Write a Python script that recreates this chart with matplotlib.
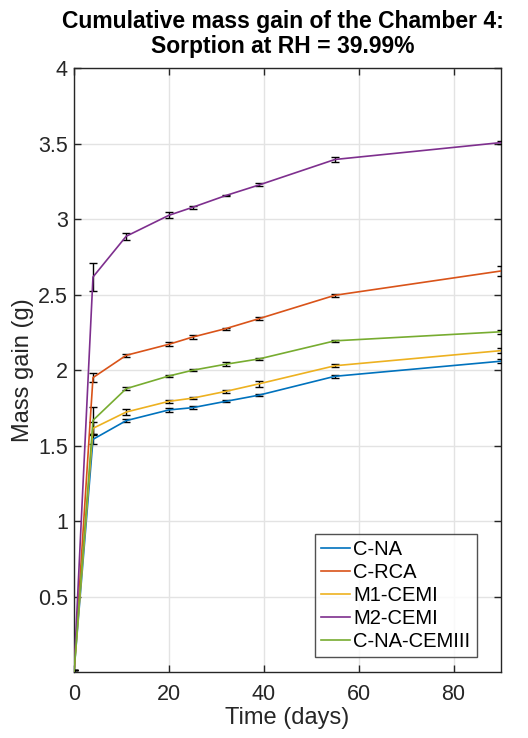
import matplotlib
matplotlib.use("Agg")
import matplotlib.pyplot as plt
from matplotlib.lines import Line2D

plt.rcParams['font.family'] = ['Liberation Sans', 'DejaVu Sans']

time_days = [0, 4, 11, 20, 25, 32, 39, 55, 90]
series_names = ["C-NA", "C-RCA", "M1-CEMI", "M2-CEMI", "C-NA-CEMIII"]

c_na = [0.0, 1.542, 1.666, 1.737, 1.752, 1.794, 1.835, 1.960, 2.060]
c_rca = [0.0, 1.951, 2.099, 2.172, 2.220, 2.276, 2.342, 2.497, 2.658]
m1_cemi = [0.0, 1.615, 1.723, 1.794, 1.815, 1.860, 1.910, 2.030, 2.130]
m2_cemi = [0.0, 2.618, 2.888, 3.027, 3.080, 3.158, 3.228, 3.397, 3.509]
c_na_cemiii = [0.0, 1.668, 1.878, 1.962, 2.000, 2.040, 2.075, 2.195, 2.255]

err_c_na = [0.01, 0.03, 0.010, 0.015, 0.008, 0.006, 0.008, 0.010, 0.012]
err_c_rca = [0.01, 0.030, 0.010, 0.012, 0.012, 0.006, 0.008, 0.010, 0.035]
err_m1_cemi = [0.01, 0.040, 0.020, 0.010, 0.008, 0.010, 0.020, 0.010, 0.015]
err_m2_cemi = [0.01, 0.090, 0.025, 0.020, 0.010, 0.006, 0.010, 0.015, 0.010]
err_c_na_cemiii = [0.01, 0.090, 0.012, 0.008, 0.006, 0.015, 0.008, 0.006, 0.015]

x_ticks = [0, 20, 40, 60, 80]
y_ticks = [0.5, 1, 1.5, 2, 2.5, 3, 3.5, 4]
y_tick_labels = ['0.5', '1', '1.5', '2', '2.5', '3', '3.5', '4']

colors = ['#0072BD', '#D95319', '#EDB120', '#7E2F8E', '#77AC30']

values = [c_na, c_rca, m1_cemi, m2_cemi, c_na_cemiii]
errors = [err_c_na, err_c_rca, err_m1_cemi, err_m2_cemi, err_c_na_cemiii]

fig = plt.figure(figsize=(5.28, 7.38), dpi=100)
ax = fig.add_axes([74/528, 66/738, 427/528, 603.5/738])

for name, v, e, c in zip(series_names, values, errors, colors):
    ax.errorbar(time_days, v, yerr=e, color=c, ecolor='black', elinewidth=1.0,
                capsize=3, capthick=1.0, linewidth=1.2, label=name, zorder=3)

ax.set_xlim(0, 90)
ax.set_ylim(0, 4)
ax.set_xticks(x_ticks)
ax.set_yticks(y_ticks)
ax.set_yticklabels(y_tick_labels)

ax.grid(True, color='#e3e3e3', linewidth=1.0, zorder=0)
ax.set_axisbelow(True)
for s in ax.spines.values():
    s.set_color('#262626')
    s.set_linewidth(1.0)
ax.tick_params(direction='in', top=True, right=True, length=5, width=1.0,
               colors='#262626', labelsize=15.5)
ax.tick_params(axis='x', pad=9)
ax.tick_params(axis='y', pad=4.5)

ax.set_xlabel('Time (days)', fontsize=17, color='#262626', labelpad=1)
ax.set_ylabel('Mass gain (g)', fontsize=17, color='#262626', labelpad=3)
ax.set_title('Cumulative mass gain of the Chamber 4:\nSorption at RH = 39.99%',
             fontsize=16.5, fontweight='bold', pad=11, linespacing=1.1, x=0.49)

leg_handles = [Line2D([0], [0], color=c, linewidth=1.2) for c in colors]
leg = ax.legend(leg_handles, series_names, loc='lower right',
                bbox_to_anchor=(0.943, 0.025), borderaxespad=0, fontsize=14.5,
                frameon=True, fancybox=False, edgecolor='#262626',
                handlelength=1.45, handletextpad=0.15, labelspacing=0.2,
                borderpad=0.3)
leg.get_frame().set_linewidth(1.0)

fig.savefig('out.png', dpi=100)
